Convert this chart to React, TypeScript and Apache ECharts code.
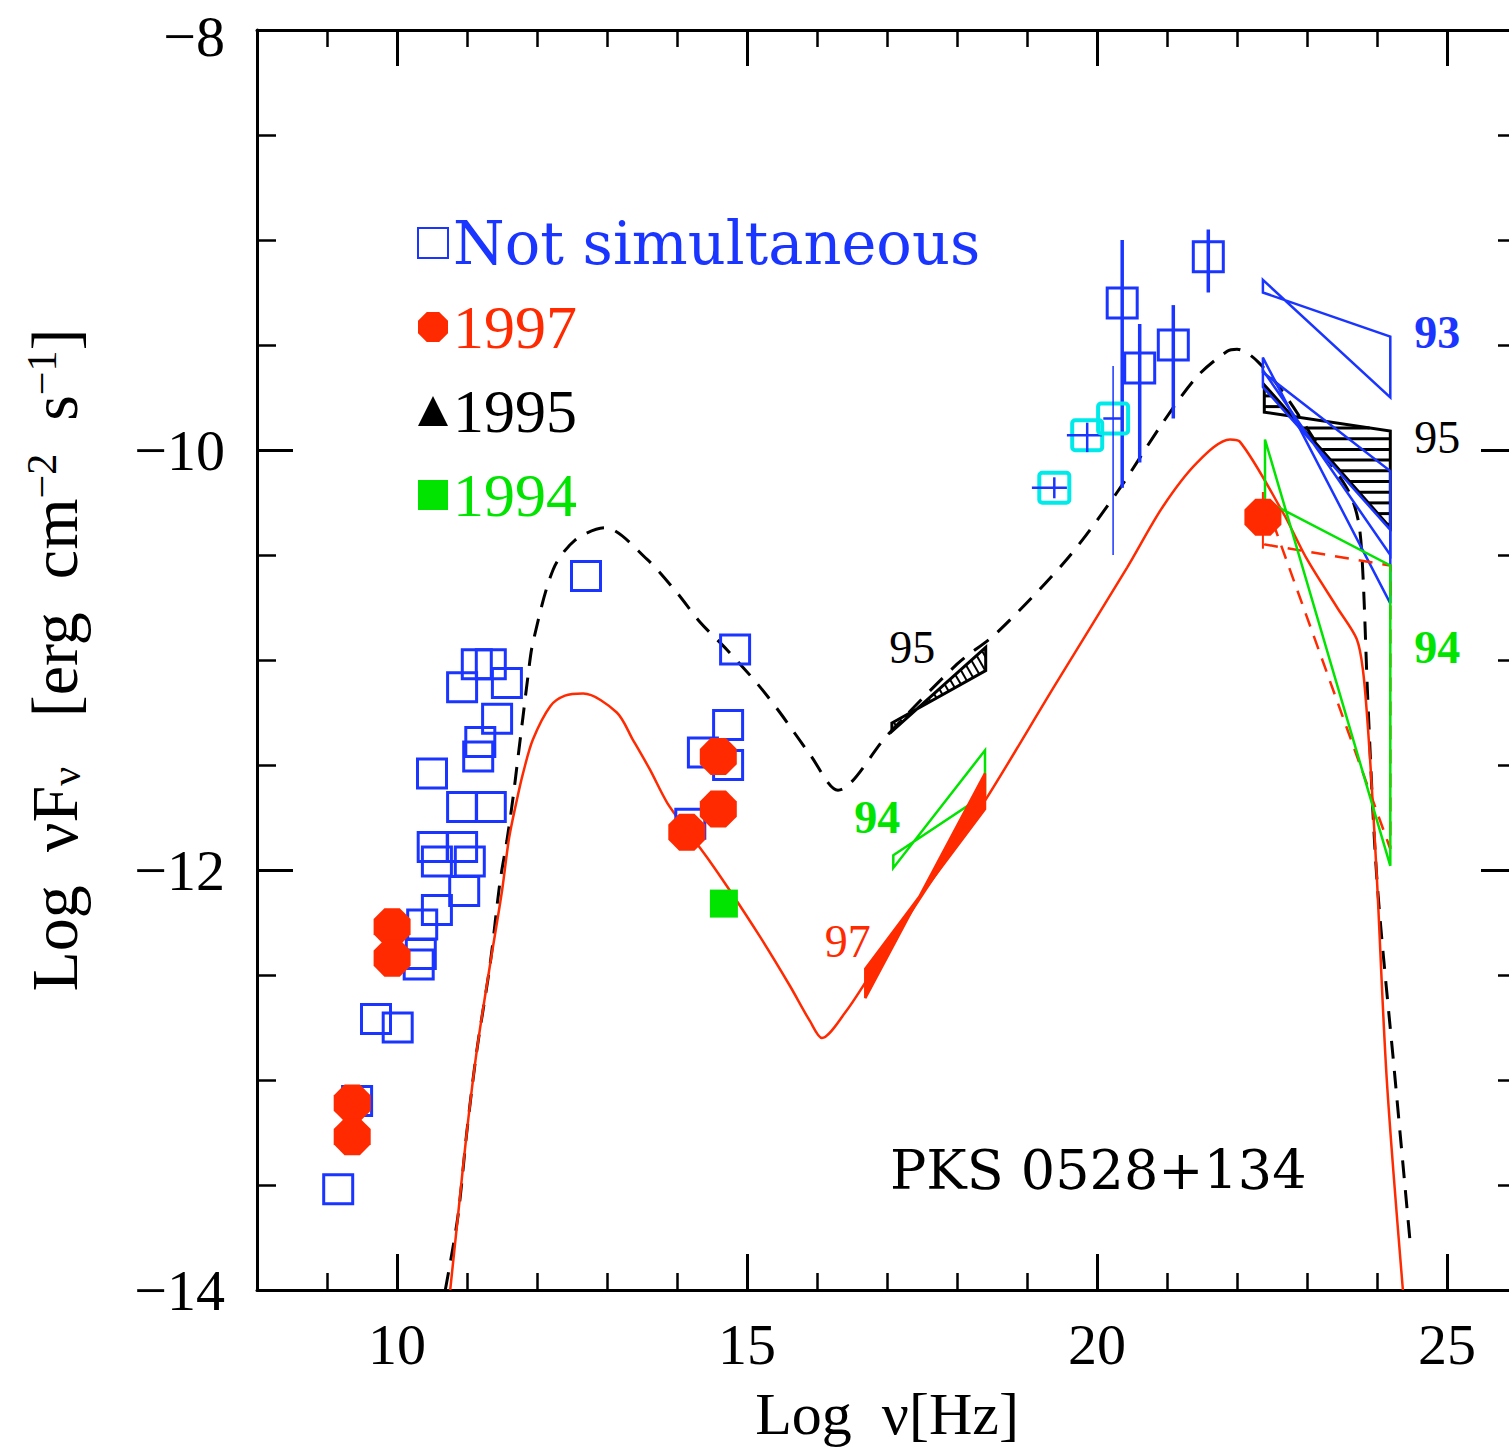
import React, { useEffect, useRef } from 'react';
import * as echarts from 'echarts';

const BLUE = '#1a35ff';
const RED = '#ff2a00';
const GREEN = '#00e400';
const CYAN = '#00eaea';
const BLACK = '#000000';

// ---- axis ticks ----
const xMajorTicks = [10, 15, 20, 25];
const xMinorTicks = [9, 11, 12, 13, 14, 16, 17, 18, 19, 21, 22, 23, 24];
const yMajorTicks = [-14, -12, -10, -8];
const yMinorTicks = [-13.5, -13, -12.5, -11.5, -11, -10.5, -9.5, -9, -8.5];

// ---- not simultaneous (open blue squares) ----
const notSimX = [11.14, 11.34, 10.93, 11.57, 11.43, 11.19, 11.16, 10.5, 10.93, 11.34, 10.51, 10.93, 10.57, 11.04, 10.96, 10.57, 10.36, 10.34, 10.31, 9.7, 10.01, 9.43, 9.16, 12.7, 14.83, 14.73, 14.37, 14.73, 14.19];
const notSimY = [-11.02, -11.02, -11.13, -11.11, -11.28, -11.39, -11.46, -11.54, -11.7, -11.7, -11.89, -11.89, -11.96, -11.96, -12.1, -12.19, -12.26, -12.4, -12.45, -12.71, -12.75, -13.1, -13.52, -10.6, -10.95, -11.31, -11.44, -11.5, -11.78];

// ---- 1997 (red octagons) ----
const y1997X = [9.93, 9.93, 9.36, 9.36, 14.59, 14.59, 14.14, 22.37];
const y1997Y = [-12.27, -12.42, -13.11, -13.27, -11.46, -11.71, -11.82, -10.32];
const y1997ErrX = [22.37];
const y1997ErrLo = [-10.47];
const y1997ErrHi = [-10.2];

// ---- 1994 (green square) ----
const y1994X = [14.67];
const y1994Y = [-12.16];

// ---- gamma-ray points (blue squares with error bars) ----
const gammaX = [20.36, 20.61, 21.09, 21.59];
const gammaY = [-9.3, -9.61, -9.5, -9.08];
const gammaYLo = [-10.18, -10.06, -9.85, -9.25];
const gammaYHi = [-9.0, -9.4, -9.31, -8.95];

// ---- hard X-ray points (cyan squares with blue error bars) ----
const hxX = [19.39, 19.86, 20.23];
const hxY = [-10.18, -9.93, -9.85];
const hxXLo = [19.07, 19.57, 20.09];
const hxXHi = [19.57, 20.07, 20.37];
const hxYLo = [-10.23, -10.01, -10.5];
const hxYHi = [-10.13, -9.87, -9.6];
const hxVBarWidth = [2.5, 2.5, 1.5];

// ---- bowties: left x, right x, left top/bottom, right top/bottom ----
const bowtieName = ['X95', 'X94', 'X97', 'G95', 'G93a', 'G93b', 'G93c', 'G97', 'G94'];
const bowtieX1 = [17.07, 17.09, 16.69, 22.39, 22.37, 22.37, 22.37, 22.4, 22.4];
const bowtieX2 = [18.41, 18.4, 18.4, 24.19, 24.19, 24.19, 24.19, 24.19, 24.19];
const bowtieL1 = [-11.3, -11.93, -12.47, -9.69, -9.19, -9.56, -9.62, -10.24, -9.95];
const bowtieL2 = [-11.34, -11.99, -12.61, -9.82, -9.25, -9.63, -9.7, -10.45, -10.24];
const bowtieR1 = [-10.94, -11.43, -11.54, -9.91, -9.46, -10.1, -10.38, -10.55, -10.55];
const bowtieR2 = [-11.05, -11.64, -11.71, -10.37, -9.75, -10.73, -10.5, -11.9, -11.98];
const bowtieStyle: any[] = [
  { color: BLACK, width: 3, hatch: { angle: 60, spacing: 7, width: 2 } },
  { color: GREEN, width: 2.5 },
  { color: RED, width: 2.5, fill: RED },
  { color: BLACK, width: 3, hatch: { angle: 0, spacing: 10.7, width: 3 } },
  { color: BLUE, width: 2.5 },
  { color: BLUE, width: 2.5 },
  { color: BLUE, width: 2.5 },
  { color: RED, width: 2.5, dash: [14, 10] },
  { color: GREEN, width: 2.5 },
];

// ---- annotations ----
const annoText = ['93', '95', '94', '95', '94', '97'];
const annoX = [24.86, 24.86, 24.86, 17.36, 16.86, 16.44];
const annoY = [-9.44, -9.94, -10.94, -10.94, -11.75, -12.34];
const annoColor = [BLUE, BLACK, GREEN, BLACK, GREEN, RED];
const annoWeight = ['bold', 'normal', 'bold', 'normal', 'bold', 'normal'];

// ---- models ----
const model95X = [10.69, 10.87, 11.0, 11.14, 11.33, 11.47, 11.57, 11.66, 11.73, 11.8, 11.87, 11.94, 12.23, 12.54, 12.97, 13.57, 14.0, 14.33, 14.71, 15.14, 15.47, 15.9, 16.3, 17.0, 18.0, 18.57, 19.57, 20.29, 20.94, 21.43, 21.86, 22.0, 22.3, 22.71, 23.2, 23.6, 23.74, 23.8, 23.87, 24.0, 24.26, 24.47];
const model95Y = [-14.0, -13.65, -13.24, -12.86, -12.45, -12.06, -11.86, -11.65, -11.46, -11.27, -11.08, -10.92, -10.57, -10.43, -10.37, -10.52, -10.68, -10.82, -10.95, -11.11, -11.25, -11.45, -11.62, -11.36, -11.02, -10.87, -10.52, -10.2, -9.87, -9.65, -9.53, -9.52, -9.58, -9.75, -10.0, -10.2, -10.35, -10.6, -11.2, -12.05, -13.0, -13.76];
const model97X = [10.76, 10.87, 11.0, 11.14, 11.33, 11.5, 11.6, 11.71, 11.8, 11.94, 12.19, 12.4, 12.66, 13.14, 13.37, 13.61, 13.86, 14.14, 14.43, 14.76, 15.19, 15.61, 15.9, 16.07, 16.4, 16.76, 17.5, 18.4, 19.4, 20.43, 20.94, 21.43, 21.9, 22.04, 22.66, 23.0, 23.43, 23.71, 23.8, 23.87, 23.93, 24.0, 24.14, 24.37];
const model97Y = [-14.0, -13.65, -13.24, -12.86, -12.45, -12.1, -11.85, -11.67, -11.54, -11.38, -11.22, -11.17, -11.16, -11.25, -11.38, -11.52, -11.68, -11.81, -11.94, -12.1, -12.32, -12.55, -12.72, -12.8, -12.68, -12.5, -12.12, -11.67, -11.12, -10.56, -10.27, -10.06, -9.95, -9.96, -10.3, -10.52, -10.75, -10.9, -11.05, -11.32, -11.63, -12.05, -13.0, -14.0];

const OCTAGON = 'path://M29.3,0L70.7,0L100,29.3L100,70.7L70.7,100L29.3,100L0,70.7L0,29.3Z';

function zip(xs: number[], ys: number[]) {
  return xs.map((x, i) => [x, ys[i]]);
}

function hatchLines(pts: number[][], angleDeg: number, spacing: number, style: any) {
  const t = (angleDeg * Math.PI) / 180;
  const c = Math.cos(t);
  const s = Math.sin(t);
  const rot = pts.map(([x, y]) => [x * c + y * s, -x * s + y * c]);
  const vs = rot.map((p) => p[1]);
  const vmin = Math.min(...vs);
  const vmax = Math.max(...vs);
  const out: any[] = [];
  for (let v = Math.ceil(vmin / spacing) * spacing; v <= vmax; v += spacing) {
    const us: number[] = [];
    for (let k = 0; k < rot.length; k++) {
      const p = rot[k];
      const q = rot[(k + 1) % rot.length];
      if ((p[1] <= v && q[1] > v) || (q[1] <= v && p[1] > v)) {
        const tt = (v - p[1]) / (q[1] - p[1]);
        us.push(p[0] + tt * (q[0] - p[0]));
      }
    }
    us.sort((a, b) => a - b);
    for (let k = 0; k + 1 < us.length; k += 2) {
      const u1 = us[k];
      const u2 = us[k + 1];
      out.push({
        type: 'line',
        shape: { x1: u1 * c - v * s, y1: u1 * s + v * c, x2: u2 * c - v * s, y2: u2 * s + v * c },
        style,
      });
    }
  }
  return out;
}

const axisBaseX = {
  type: 'value',
  min: 8,
  max: 26,
  splitLine: { show: false },
  axisLine: { show: false, onZero: false },
  axisLabel: { show: false },
  axisTick: { show: false },
};
const axisBaseY = {
  type: 'value',
  min: -14,
  max: -8,
  splitLine: { show: false },
  axisLine: { show: false, onZero: false },
  axisLabel: { show: false },
  axisTick: { show: false },
};
const frameLine = { show: true, onZero: false, lineStyle: { color: BLACK, width: 3 } };
const majorTick = (vals: number[]) => ({ show: true, inside: true, length: 36, customValues: vals, lineStyle: { color: BLACK, width: 3 } });
const minorTick = (vals: number[], len: number) => ({ show: true, inside: true, length: len, customValues: vals, lineStyle: { color: BLACK, width: 2.5 } });
const tickFont = { color: BLACK, fontSize: 58, lineHeight: 44, fontFamily: 'Liberation Serif' };

export default function App() {
  const ref = useRef<HTMLDivElement>(null);
  useEffect(() => {
    const chart = echarts.init(ref.current as HTMLDivElement, null, { renderer: 'svg' });
    const option: any = {
      animation: false,
      backgroundColor: '#ffffff',
      grid: { left: 257, top: 30, width: 1260, height: 1260, containLabel: false, outerBoundsMode: 'none' },
      xAxis: [
        { ...axisBaseX, position: 'bottom', axisLine: frameLine, axisTick: majorTick(xMajorTicks), axisLabel: { show: true, customValues: xMajorTicks, margin: 32, ...tickFont } },
        { ...axisBaseX, position: 'bottom', axisTick: minorTick(xMinorTicks, 17) },
        { ...axisBaseX, position: 'top', axisLine: frameLine, axisTick: majorTick(xMajorTicks) },
        { ...axisBaseX, position: 'top', axisTick: minorTick(xMinorTicks, 17) },
      ],
      yAxis: [
        {
          ...axisBaseY,
          position: 'left',
          axisLine: frameLine,
          axisTick: majorTick(yMajorTicks),
          axisLabel: {
            show: true,
            customValues: yMajorTicks,
            margin: 32,
            formatter: (v: number) => {
              const s = v < 0 ? '\u2212' + Math.abs(v) : String(v);
              return v === -8 ? '{edge|' + s + '}' : s;
            },
            rich: { edge: { fontSize: 58, lineHeight: 44, fontFamily: 'Liberation Serif', color: BLACK, padding: [12, 0, 0, 0] } },
            ...tickFont,
          },
        },
        { ...axisBaseY, position: 'left', axisTick: minorTick(yMinorTicks, 19) },
        { ...axisBaseY, position: 'right', axisLine: frameLine, axisTick: majorTick(yMajorTicks) },
        { ...axisBaseY, position: 'right', axisTick: minorTick(yMinorTicks, 19) },
      ],
      legend: {
        orient: 'vertical',
        left: 412,
        top: 207,
        itemWidth: 30,
        itemHeight: 30,
        itemGap: 22,
        selectedMode: false,
        textStyle: { fontFamily: 'Liberation Serif', fontSize: 62, lineHeight: 62, color: BLACK },
        data: [
          { name: 'Not simultaneous', textStyle: { color: BLUE, fontFamily: 'DejaVu Serif', fontSize: 59 } },
          { name: '1997', textStyle: { color: RED } },
          { name: '1995', textStyle: { color: BLACK } },
          { name: '1994', textStyle: { color: GREEN } },
        ],
      },
      graphic: [
        {
          type: 'text',
          x: 887,
          y: 1414,
          style: { text: 'Log  \u03bd[Hz]', fontSize: 60, lineHeight: 50, fontFamily: 'Liberation Serif', fill: BLACK, align: 'center', verticalAlign: 'middle' },
        },
        {
          type: 'text',
          x: 54,
          y: 660,
          rotation: Math.PI / 2,
          style: {
            text: '{a|Log  \u03bd}{a|F}{b|\u03bd}{a|   [erg  cm}{c|\u22122}{a|  s}{c|\u22121}{a|]}',
            align: 'center',
            verticalAlign: 'middle',
            rich: {
              a: { fontSize: 66, lineHeight: 66, fontFamily: 'Liberation Serif', fill: BLACK },
              b: { fontSize: 42, lineHeight: 42, fontFamily: 'Liberation Serif', fill: BLACK, verticalAlign: 'bottom' },
              c: { fontSize: 42, lineHeight: 42, fontFamily: 'Liberation Serif', fill: BLACK, verticalAlign: 'top' },
            },
          },
        },
        {
          type: 'text',
          x: 890,
          y: 1170,
          style: { text: 'PKS 0528+134', fontSize: 54, fontFamily: 'DejaVu Serif', fill: BLACK, align: 'left', verticalAlign: 'middle' },
        },
      ],
      series: [
        {
          name: 'model 1995',
          type: 'line',
          data: zip(model95X, model95Y),
          symbol: 'none',
          smooth: 0.3,
          silent: true,
          lineStyle: { color: BLACK, width: 3, type: [18, 12] },
          z: 2,
        },
        {
          name: 'model 1997',
          type: 'line',
          data: zip(model97X, model97Y),
          symbol: 'none',
          smooth: 0.3,
          silent: true,
          lineStyle: { color: RED, width: 2.5 },
          z: 2,
        },
        {
          name: 'bowties',
          type: 'custom',
          silent: true,
          z: 3,
          data: bowtieName.map((_, i) => [bowtieX1[i], bowtieX2[i], bowtieL1[i], bowtieL2[i], bowtieR1[i], bowtieR2[i]]),
          encode: { x: [0, 1], y: [2, 3, 4, 5] },
          renderItem: (params: any, api: any) => {
            const i = params.dataIndex;
            const st = bowtieStyle[i];
            const A = api.coord([api.value(0), api.value(2)]);
            const B = api.coord([api.value(1), api.value(5)]);
            const C = api.coord([api.value(1), api.value(4)]);
            const D = api.coord([api.value(0), api.value(3)]);
            const pts = [A, B, C, D];
            const children: any[] = [
              {
                type: 'polygon',
                shape: { points: pts },
                style: { fill: st.fill || 'none', stroke: st.color, lineWidth: st.width, lineDash: st.dash || null, lineJoin: 'miter' },
              },
            ];
            if (st.hatch) {
              children.push(...hatchLines(pts, st.hatch.angle, st.hatch.spacing, { stroke: st.color, lineWidth: st.hatch.width }));
            }
            return { type: 'group', children };
          },
        },
        {
          name: 'Not simultaneous',
          type: 'scatter',
          data: zip(notSimX, notSimY),
          symbol: 'rect',
          symbolSize: 29,
          silent: true,
          itemStyle: { color: 'rgba(0,0,0,0)', borderColor: BLUE, borderWidth: 3, opacity: 1 },
          z: 4,
        },
        {
          name: 'gamma points',
          type: 'custom',
          silent: true,
          z: 4,
          data: gammaX.map((x, i) => [x, gammaY[i], gammaYLo[i], gammaYHi[i]]),
          encode: { x: 0, y: [1, 2, 3] },
          renderItem: (params: any, api: any) => {
            const x = api.value(0);
            const p = api.coord([x, api.value(1)]);
            const lo = api.coord([x, api.value(2)]);
            const hi = api.coord([x, api.value(3)]);
            return {
              type: 'group',
              children: [
                { type: 'rect', shape: { x: p[0] - 15, y: p[1] - 15, width: 30, height: 30 }, style: { fill: 'none', stroke: BLUE, lineWidth: 3 } },
                { type: 'line', shape: { x1: hi[0], y1: hi[1], x2: lo[0], y2: lo[1] }, style: { stroke: BLUE, lineWidth: 3.5 } },
              ],
            };
          },
        },
        {
          name: 'hard X points',
          type: 'custom',
          silent: true,
          z: 4,
          data: hxX.map((x, i) => [x, hxY[i], hxXLo[i], hxXHi[i], hxYLo[i], hxYHi[i]]),
          encode: { x: [0, 2, 3], y: [1, 4, 5] },
          renderItem: (params: any, api: any) => {
            const i = params.dataIndex;
            const x = api.value(0);
            const y = api.value(1);
            const p = api.coord([x, y]);
            const l = api.coord([api.value(2), y]);
            const r = api.coord([api.value(3), y]);
            const b = api.coord([x, api.value(4)]);
            const t = api.coord([x, api.value(5)]);
            return {
              type: 'group',
              children: [
                { type: 'rect', shape: { x: p[0] - 15, y: p[1] - 15, width: 30, height: 30, r: 3 }, style: { fill: 'none', stroke: CYAN, lineWidth: 4 } },
                { type: 'line', shape: { x1: l[0], y1: l[1], x2: r[0], y2: r[1] }, style: { stroke: BLUE, lineWidth: 2.5 } },
                { type: 'line', shape: { x1: t[0], y1: t[1], x2: b[0], y2: b[1] }, style: { stroke: BLUE, lineWidth: hxVBarWidth[i] } },
              ],
            };
          },
        },
        {
          name: '1994',
          type: 'scatter',
          data: zip(y1994X, y1994Y),
          symbol: 'rect',
          symbolSize: 28,
          silent: true,
          itemStyle: { color: GREEN, opacity: 1 },
          z: 5,
        },
        {
          name: '1997 errors',
          type: 'custom',
          silent: true,
          z: 5,
          data: y1997ErrX.map((x, i) => [x, y1997ErrLo[i], y1997ErrHi[i]]),
          encode: { x: 0, y: [1, 2] },
          renderItem: (params: any, api: any) => {
            const x = api.value(0);
            const lo = api.coord([x, api.value(1)]);
            const hi = api.coord([x, api.value(2)]);
            return { type: 'line', shape: { x1: hi[0], y1: hi[1], x2: lo[0], y2: lo[1] }, style: { stroke: RED, lineWidth: 2 } };
          },
        },
        {
          name: '1997',
          type: 'scatter',
          data: zip(y1997X, y1997Y),
          symbol: OCTAGON,
          symbolSize: 37,
          silent: true,
          itemStyle: { color: RED, opacity: 1 },
          z: 6,
        },
        {
          name: '1995',
          type: 'scatter',
          data: [],
          symbol: 'triangle',
          symbolSize: 30,
          itemStyle: { color: BLACK, opacity: 1 },
        },
        {
          name: 'annotations',
          type: 'custom',
          silent: true,
          z: 7,
          data: annoX.map((x, i) => [x, annoY[i]]),
          encode: { x: 0, y: 1 },
          renderItem: (params: any, api: any) => {
            const i = params.dataIndex;
            const p = api.coord([api.value(0), api.value(1)]);
            return {
              type: 'text',
              x: p[0],
              y: p[1],
              style: { text: annoText[i], fill: annoColor[i], fontSize: 46, fontWeight: annoWeight[i], fontFamily: 'Liberation Serif', align: 'center', verticalAlign: 'middle' },
            };
          },
        },
      ],
    };
    chart.setOption(option);
    return () => chart.dispose();
  }, []);
  return <div ref={ref} style={{ position: 'fixed', left: 0, top: 0, width: 1530, height: 1448, background: '#ffffff' }} />;
}
